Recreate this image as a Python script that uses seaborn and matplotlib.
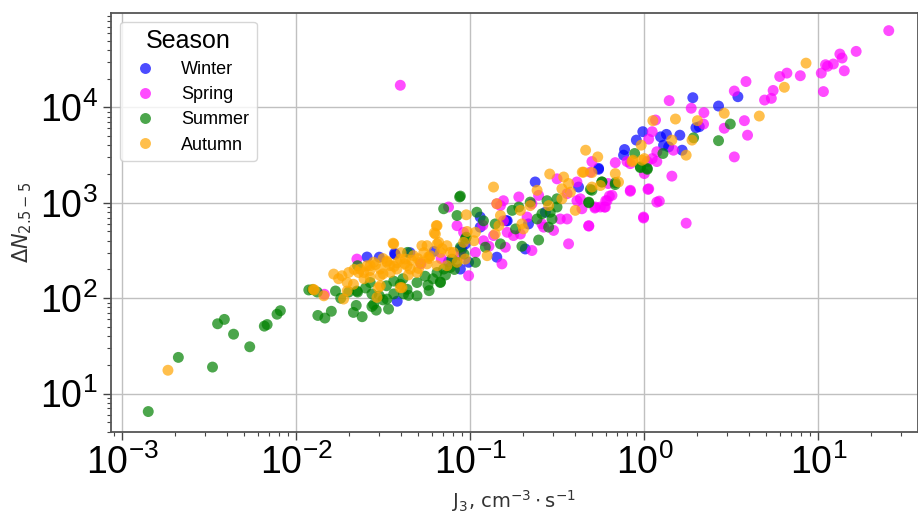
import matplotlib
matplotlib.use("Agg")
import matplotlib.pyplot as plt
import pandas as pd
import seaborn as sns

# J3 (x) and dN 2.5-5 (y) per season
winter_j = [0.030, 0.037, 0.038, 0.0877, 0.0978, 0.0936, 0.114, 0.114, 0.0894, 0.142,
            0.161, 0.163, 0.216, 0.207, 0.236, 0.27, 0.419, 0.546, 3.45, 2.67,
            1.98, 2.07, 1.9, 1.6, 1.34, 1.24, 1.29, 1.38, 1.65, 0.98,
            0.9, 0.77, 0.76, 0.546, 0.0877, 0.0367, 0.0255, 0.045, 0.062, 0.075]
winter_n = [269, 288, 93, 202, 238, 370, 708, 555, 328, 269,
            647, 647, 600, 328, 1650, 795, 1460, 2290, 12900, 10300,
            6110, 6260, 12600, 5100, 5200, 4900, 4010, 3850, 3550, 5550,
            4530, 3610, 3150, 2240, 328, 295, 270, 300, 310, 240]

spring_j = [0.0396, 0.0223, 0.0839, 0.0978, 0.0915, 0.119, 0.152, 0.136, 0.159, 0.155,
            0.142, 0.155, 0.19, 0.212, 0.194, 0.226, 0.163, 0.177, 0.247, 0.258,
            0.264, 0.301, 0.226, 0.329, 0.36, 0.367, 0.479, 0.315, 0.41, 0.36,
            0.429, 0.41, 0.523, 0.559, 0.597, 0.611, 0.652, 0.438, 0.49, 0.681,
            0.832, 1.06, 0.99, 1.18, 0.795, 0.075, 0.149, 0.107,
            25.4, 16.5, 13.3, 13.7, 12.2, 11.0, 11.3, 14.1, 10.4, 10.7,
            7.88, 6.6, 6.0, 5.5, 5.37, 4.91, 3.84, 3.29, 3.76, 3.92,
            3.29, 2.88, 2.2, 2.19, 1.86, 1.39, 1.47, 1.18, 1.18, 1.11,
            1.06, 1.16, 0.83, 1.11, 1.04, 1.0, 1.44, 0.83, 1.05, 1.22,
            0.99, 1.74, 0.48, 0.5, 0.62, 0.63, 0.6, 0.52, 0.59,
            0.0145, 0.052, 0.068, 0.118, 0.128, 0.088]
spring_n = [17000, 257, 575, 172, 490, 400, 229, 453, 342, 647,
            977, 1050, 1150, 708, 470, 977, 490, 453, 1195, 600,
            555, 513, 316, 676, 676, 371, 575, 1780, 1650, 1245,
            1100, 1050, 902, 902, 902, 1050, 1195, 865, 2090, 2630,
            1350, 1400, 708, 1015, 2700, 902, 933, 302,
            63500, 38500, 36100, 32800, 28400, 27900, 26900, 24100, 22800, 14600,
            21400, 22800, 21000, 15000, 12400, 11900, 18600, 14800, 7240, 5100,
            3020, 6030, 8790, 6670, 9770, 11750, 3550, 3420, 2700, 5550,
            4640, 7350, 2570, 2900, 2700, 2020, 1900, 1320, 1380, 1040,
            692, 611, 569, 2700, 1590, 1175, 1050, 880, 900,
            110, 230, 260, 580, 350, 280]

summer_j = [0.00141, 0.0021, 0.0033, 0.00353, 0.00386, 0.00436, 0.0054, 0.00655, 0.0068, 0.00775,
            0.0081, 0.0124, 0.0132, 0.0133, 0.0146, 0.0159, 0.0213, 0.0239, 0.0272, 0.0288,
            0.0339, 0.0221, 0.0315, 0.0225, 0.0272, 0.030, 0.0363, 0.0442, 0.0494, 0.0571,
            0.0673, 0.0433, 0.0396, 0.0118, 0.0168, 0.020, 0.0436, 0.0225, 0.0266, 0.0363,
            0.0494, 0.0673, 0.0644, 0.0703, 0.0767, 0.0839, 0.0784, 0.0414, 0.0332, 0.0223,
            0.0278, 0.0877, 0.0877, 0.0868, 0.0703, 0.0839, 0.109, 0.119, 0.0936, 0.122,
            0.107, 0.149, 0.139, 0.174, 0.19, 0.221, 0.242, 0.258, 0.247, 0.198,
            0.182, 0.282, 0.295, 0.288, 0.276, 0.315, 0.315, 0.479, 0.50, 0.571,
            0.681, 0.948, 1.04, 3.12, 2.67, 1.92, 1.28, 0.88, 0.95, 1.04,
            0.57, 0.68, 0.49, 0.48, 0.0948,
            0.018, 0.025, 0.033, 0.041, 0.055, 0.061, 0.072, 0.081, 0.092, 0.058]
summer_n = [6.5, 24, 19, 54, 60, 42, 31, 51, 53, 68,
            74, 123, 116, 66, 62, 73, 71, 64, 82, 75,
            77, 84, 96, 116, 111, 106, 111, 107, 106, 137,
            148, 124, 140, 122, 119, 116, 302, 219, 146, 151,
            146, 146, 186, 202, 210, 238, 257, 111, 98, 119,
            86, 342, 1175, 1150, 865, 735, 795, 647, 417, 342,
            238, 371, 600, 832, 902, 1015, 676, 766, 407, 350,
            532, 555, 676, 795, 1050, 902, 1100, 1015, 1350, 1650,
            1620, 2380, 2290, 6670, 4470, 4790, 3280, 3280, 2330, 2240,
            1650, 1550, 1380, 1000, 436,
            100, 128, 135, 160, 170, 160, 175, 200, 290, 120]

autumn_j = [0.00183, 0.0127, 0.0144, 0.0164, 0.0183, 0.020, 0.0196, 0.0213, 0.0196, 0.0187,
            0.0125, 0.0228, 0.0255, 0.0278, 0.0304, 0.0332, 0.0363, 0.0396, 0.0433, 0.0472,
            0.0516, 0.0564, 0.0644, 0.063, 0.0644, 0.0734, 0.080, 0.0915, 0.0304, 0.0396,
            0.0291, 0.0233, 0.0347, 0.0494, 0.0734, 0.0839, 0.036, 0.0266, 0.0332, 0.0424,
            0.0527, 0.0658, 0.0767, 0.0673, 0.0589, 0.0452, 0.0379, 0.0304, 0.0266, 0.0244,
            0.0297, 0.0405, 0.0564, 0.0644, 0.0621, 0.0638, 0.0959, 0.142, 0.136, 0.0948,
            0.107, 0.105, 0.125, 0.0936, 0.139, 0.149, 0.146, 0.194, 0.221, 0.198,
            0.202, 0.242, 0.282, 0.336, 0.286, 0.344, 0.367, 0.336, 0.376, 0.401,
            0.50, 0.559, 0.448, 0.681, 0.711, 0.85, 0.97, 8.5, 6.38, 4.58,
            2.88, 2.02, 1.51, 1.88, 1.44, 1.74, 1.12, 0.96, 0.86, 1.0,
            0.54, 0.5, 0.46, 0.44,
            0.0175, 0.0215, 0.0245, 0.0285, 0.0315, 0.0345, 0.038, 0.042, 0.046, 0.050,
            0.054, 0.058, 0.069, 0.0315, 0.0365, 0.044, 0.0505, 0.0575, 0.0265, 0.040]
autumn_n = [17.6, 122, 106, 179, 172, 186, 146, 140, 119, 98,
            124, 186, 219, 238, 202, 238, 370, 257, 219, 279,
            238, 355, 370, 470, 575, 355, 302, 385, 135, 129,
            102, 202, 186, 186, 219, 238, 377, 219, 245, 257,
            355, 385, 302, 302, 279, 202, 202, 172, 165, 186,
            129, 129, 229, 219, 483, 575, 500, 977, 1460, 748,
            490, 400, 279, 257, 470, 735, 575, 832, 933, 600,
            532, 1350, 933, 1100, 2000, 1860, 1590, 1400, 1290, 832,
            1460, 1515, 2090, 2020, 1650, 2700, 2790, 29000, 16200, 8090,
            8650, 7240, 7530, 4530, 4530, 3150, 7240, 4010, 2790, 2900,
            3020, 2070, 3550, 2090,
            160, 200, 160, 225, 180, 220, 235, 230, 250, 260,
            300, 260, 330, 260, 215, 175, 205, 270, 195, 300]

seasons = ["Winter", "Spring", "Summer", "Autumn"]
season_colors = {"Winter": "blue", "Spring": "magenta", "Summer": "green", "Autumn": "orange"}

# build one long table for seaborn
frames = []
for name, xs, ys in zip(seasons,
                        [winter_j, spring_j, summer_j, autumn_j],
                        [winter_n, spring_n, summer_n, autumn_n]):
    frames.append(pd.DataFrame({"J3": xs, "dN": ys, "Season": name}))
df = pd.concat(frames, ignore_index=True)

sns.set_style("ticks")
plt.rcParams['font.family'] = ['Liberation Sans', 'DejaVu Sans']

fig = plt.figure(figsize=(9.18, 5.23), dpi=100)
ax = fig.add_axes([0.1206, 0.1746, 0.8794, 0.7996])

sns.scatterplot(data=df, x="J3", y="dN", hue="Season", hue_order=seasons,
                palette=season_colors, s=62, alpha=0.7, edgecolor="none",
                linewidth=0, ax=ax)

ax.set_xscale("log")
ax.set_yscale("log")
ax.set_xlim(8.58e-4, 37.4)
ax.set_ylim(4.0, 9.6e4)
ax.grid(True, which="major", color="#c0c0c0", linewidth=1.0)
ax.set_axisbelow(True)

for side in ["left", "bottom", "top", "right"]:
    ax.spines[side].set_color("#555555")
    ax.spines[side].set_linewidth(1.3)

ax.tick_params(axis="both", which="major", labelsize=27, length=6, width=1,
               color="#444444", labelcolor="black")
ax.tick_params(axis="both", which="minor", length=3, width=0.8, color="#444444")

ax.set_xlabel(r"J$_3$, cm$^{-3}\cdot$s$^{-1}$", fontsize=14, family="DejaVu Sans", color="#333333")
ax.set_ylabel(r"$\Delta N_{2.5-5}$", fontsize=15, color="#333333")

leg = ax.legend(title="Season", loc="upper left", bbox_to_anchor=(0.0115, 0.98),
                borderaxespad=0, fontsize=13, title_fontsize=18, handletextpad=1.0,
                labelspacing=0.45, markerscale=1.0, frameon=True)
leg.get_frame().set_edgecolor("#cccccc")
leg.get_title().set_color("black")
for t in leg.get_texts():
    t.set_color("black")

fig.savefig("out.png", dpi=100)
